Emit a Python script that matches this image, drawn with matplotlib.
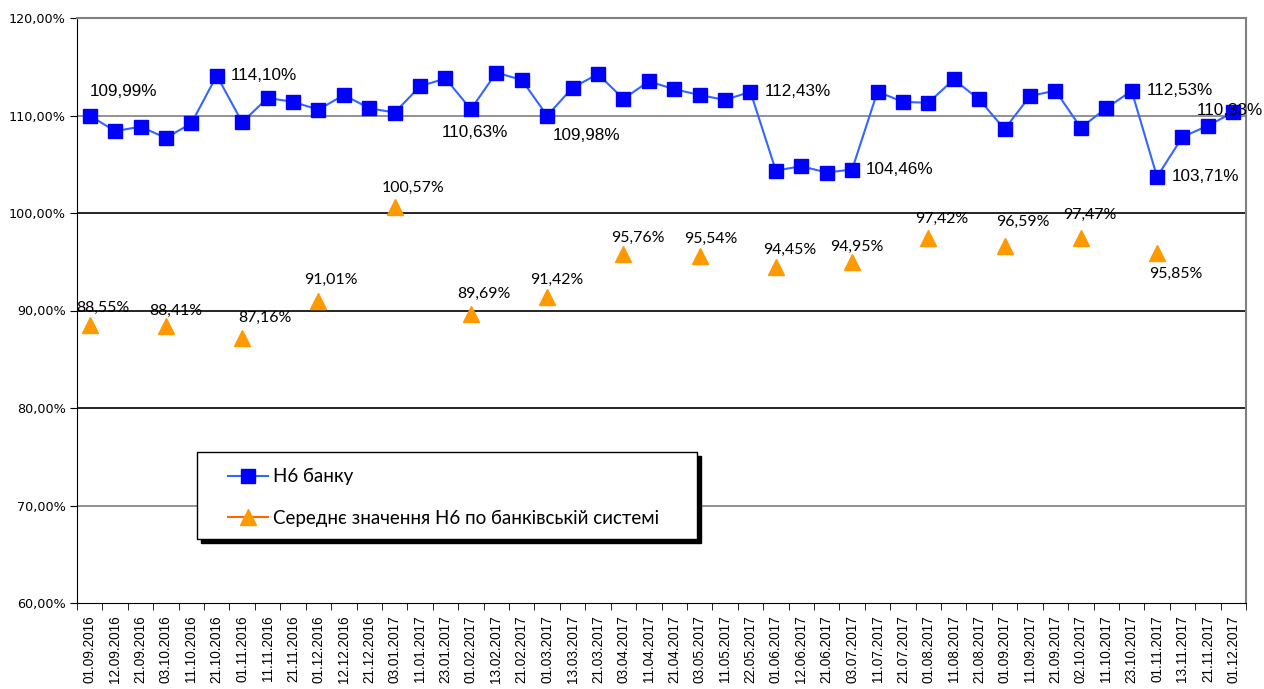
import numpy as np
import matplotlib
matplotlib.use("Agg")
import matplotlib.pyplot as plt
import matplotlib.ticker as ticker
from matplotlib.patches import Rectangle

dates = ["01.09.2016", "12.09.2016", "21.09.2016", "03.10.2016", "11.10.2016", "21.10.2016",
         "01.11.2016", "11.11.2016", "21.11.2016", "01.12.2016", "12.12.2016", "21.12.2016",
         "03.01.2017", "11.01.2017", "23.01.2017", "01.02.2017", "13.02.2017", "21.02.2017",
         "01.03.2017", "13.03.2017", "21.03.2017", "03.04.2017", "11.04.2017", "21.04.2017",
         "03.05.2017", "11.05.2017", "22.05.2017", "01.06.2017", "12.06.2017", "21.06.2017",
         "03.07.2017", "11.07.2017", "21.07.2017", "01.08.2017", "11.08.2017", "21.08.2017",
         "01.09.2017", "11.09.2017", "21.09.2017", "02.10.2017", "11.10.2017", "23.10.2017",
         "01.11.2017", "13.11.2017", "21.11.2017", "01.12.2017"]

bank_h6 = [109.99, 108.40, 108.85, 107.70, 109.20, 114.10, 109.30, 111.80, 111.40, 110.60,
           112.10, 110.75, 110.30, 113.00, 113.80, 110.63, 114.40, 113.65, 109.98, 112.85,
           114.25, 111.70, 113.50, 112.70, 112.10, 111.60, 112.43, 104.35, 104.80, 104.15,
           104.46, 112.45, 111.40, 111.30, 113.70, 111.65, 108.60, 112.00, 112.55, 108.75,
           110.75, 112.53, 103.71, 107.80, 108.95, 110.33]

avg_idx = [0, 3, 6, 9, 12, 15, 18, 21, 24, 27, 30, 33, 36, 39, 42]
avg_h6 = [88.55, 88.41, 87.16, 91.01, 100.57, 89.69, 91.42, 95.76, 95.54, 94.45,
          94.95, 97.42, 96.59, 97.47, 95.85]

bank_label_idx = [0, 5, 15, 18, 26, 30, 41, 42, 45]

series_names = ["Н6 банку", "Середнє значення Н6 по банківській системі"]

# label placement (pixels) - tuned by eye
bank_lbl_pos = {0: (0, 24, "left"), 5: (14, 0, "left"), 15: (4, -23, "center"),
                18: (6, -20, "left"), 26: (14, 0, "left"), 30: (14, 0, "left"),
                41: (15, 0, "left"), 42: (15, 0, "left"), 45: (-3, 2, "center")}
avg_lbl_off = [(13, 17), (10, 15), (23, 20), (12, 21), (18, 20), (13, 20), (10, 17), (14, 16),
               (11, 18), (14, 17), (5, 15), (13, 19), (18, 24), (9, 23), (19, -20)]


def pct(v):
    return f"{v:.2f}".replace(".", ",") + "%"


x = np.arange(len(dates))
avg_series = np.full(len(dates), np.nan)
avg_series[avg_idx] = avg_h6

fig = plt.figure(figsize=(12.64, 6.89), dpi=100)
ax = fig.add_axes([77/1264, 1-603/689, (1246-77)/1264, (603-18)/689])

ax.set_xlim(-0.5, len(dates)-0.5)
ax.set_ylim(60, 120)

# gridlines
for yv, c in [(110, "#808080"), (100, "black"), (90, "black"), (80, "black"), (70, "#808080")]:
    ax.axhline(yv, color=c, lw=1.2, zorder=1)

ax.plot(x, bank_h6, color="#3366FF", lw=1.5, marker="s", ms=9.5, mfc="#0000FF",
        mec="#0000FF", zorder=3, label=series_names[0])
ax.plot(x, avg_series, color="#FF6600", lw=1.5, marker="^", ms=11, mfc="#FF9900",
        mec="#FF9900", zorder=3, label=series_names[1])

for i in bank_label_idx:
    dx, dy, ha = bank_lbl_pos[i]
    ax.annotate(pct(bank_h6[i]), (x[i], bank_h6[i]), xytext=(dx, dy), textcoords="offset pixels",
                ha=ha, va="center", fontsize=12.3, family="Liberation Sans",
                annotation_clip=False, zorder=5)

for k, i in enumerate(avg_idx):
    dx, dy = avg_lbl_off[k]
    ax.annotate(pct(avg_h6[k]), (x[i], avg_h6[k]), xytext=(dx, dy), textcoords="offset pixels",
                ha="center", va="center", fontsize=11.4, family="Lato",
                annotation_clip=False, zorder=5)

# axes styling
for s in ["left", "bottom"]:
    ax.spines[s].set_color("black")
for s in ["top", "right"]:
    ax.spines[s].set_color("#808080")
    ax.spines[s].set_linewidth(1.5)

ax.yaxis.set_major_locator(ticker.MultipleLocator(10))
ax.yaxis.set_major_formatter(ticker.FuncFormatter(lambda v, p: pct(v)))
ax.tick_params(axis="y", length=5, labelsize=9.2, pad=3)

ax.set_xticks(x)
ax.set_xticklabels(dates, rotation=90, family="Liberation Sans", fontsize=9.8)
ax.set_xticks(np.arange(-0.5, len(dates)), minor=True)
ax.tick_params(axis="x", which="major", length=0, pad=9)
ax.tick_params(axis="x", which="minor", length=5)

# legend box with shadow
bx0, by0 = (197-77)/1169, (603-539)/585
bw, bh = (697-197)/1169, (539-452)/585
sdx, sdy = 4/1169, 4/585
ax.add_patch(Rectangle((bx0+sdx, by0-sdy), bw, bh, transform=ax.transAxes,
                       facecolor="black", edgecolor="black", zorder=6, clip_on=False))
ax.add_patch(Rectangle((bx0, by0), bw, bh, transform=ax.transAxes,
                       facecolor="white", edgecolor="black", lw=1, zorder=7, clip_on=False))
leg = ax.legend(loc="upper left", bbox_to_anchor=((228-77)/1169, (603-468)/585),
                frameon=False, borderpad=0, borderaxespad=0, handlelength=2.13,
                handletextpad=0.27, labelspacing=1.3, prop={"family": "Lato", "size": 13.5})
leg.set_zorder(8)

fig.savefig("out.png", dpi=100)
